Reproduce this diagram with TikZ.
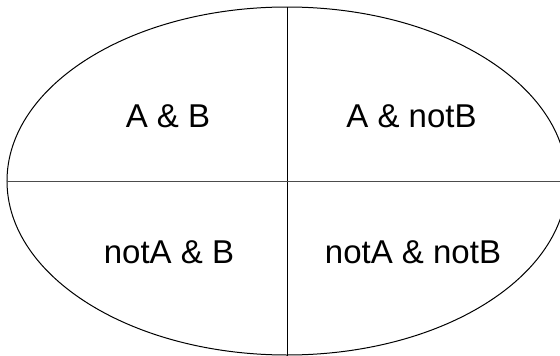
\documentclass[tikz,border=0pt]{standalone}
\usepackage{fontspec}
\setmainfont{Liberation Sans}
\begin{document}
\begin{tikzpicture}[x=1pt,y=-1pt,
  lbl/.style={anchor=base,inner sep=0pt,font=\fontsize{33}{39}\selectfont},
  divider/.style={line width=1pt}]
\useasboundingbox (0,0) rectangle (560,356);
\clip (0,0) rectangle (560,356);
\coordinate (c) at (287,181);
\draw[line width=1pt] (c) ellipse [x radius=280, y radius=174];
\coordinate (top) at (287,7);
\coordinate (bot) at (287,356);
\coordinate (left) at (7,181.5);
\coordinate (right) at (560,181.5);
\draw[divider] (top) -- (bot);
\draw[divider,color=black!70,line width=1.3pt] (left) -- (right);
\node[lbl] (ab) at (168,127) {A \& B};
\node[lbl] (anb) at (411.5,127) {A \& notB};
\node[lbl] (nab) at (169,263) {notA \& B};
\node[lbl] (nanb) at (413,263) {notA \& notB};
\end{tikzpicture}
\end{document}
